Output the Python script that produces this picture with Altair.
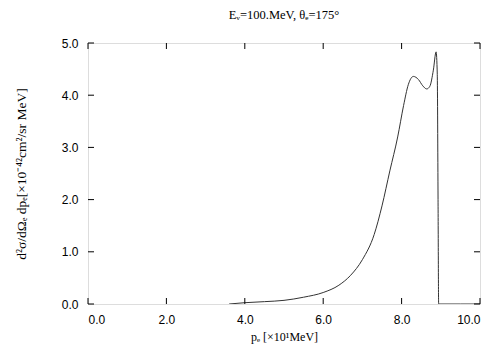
import altair as alt
import pandas as pd

# curve
p_e = [3.6, 4.0, 4.5, 5.0, 5.5, 6.0, 6.4, 6.7, 7.0, 7.3, 7.5, 7.7, 7.9, 8.05, 8.17,
       8.3, 8.43, 8.54, 8.64, 8.72, 8.81, 8.88, 8.91, 8.93, 8.945, 9.5, 10.0]
xsec = [0.0, 0.025, 0.045, 0.07, 0.13, 0.22, 0.36, 0.55, 0.85, 1.33, 1.88, 2.55, 3.2, 3.8, 4.2,
        4.36, 4.3, 4.18, 4.12, 4.17, 4.48, 4.83, 4.4, 2.0, 0.0, 0.0, 0.0]

x_ticks = [0.0, 2.0, 4.0, 6.0, 8.0, 10.0]
y_ticks = [0.0, 1.0, 2.0, 3.0, 4.0, 5.0]

W, H = 392, 261
TL = 6

df = pd.DataFrame({"p": p_e, "s": xsec})
xt = pd.DataFrame({"t": x_ticks})
yt = pd.DataFrame({"t": y_ticks})

xscale = alt.Scale(domain=[0, 10], nice=False, zero=False)
yscale = alt.Scale(domain=[0, 5], nice=False, zero=False)

line = alt.Chart(df).mark_line(color="#333333", strokeWidth=1, interpolate="monotone", clip=True).encode(
    x=alt.X("p:Q", scale=xscale, axis=alt.Axis(
        values=x_ticks, format=".1f", ticks=False, domain=False, grid=False,
        labelFont="Liberation Sans", labelFontSize=12, labelColor="black", labelPadding=10,
        title="pₑ [×10¹MeV]", titleFont="Liberation Serif", titleFontSize=12,
        titleFontWeight="normal", titleColor="black", titlePadding=6)),
    y=alt.Y("s:Q", scale=yscale, axis=alt.Axis(
        values=y_ticks, format=".1f", ticks=False, domain=False, grid=False,
        labelFont="Liberation Sans", labelFontSize=12, labelColor="black", labelPadding=10,
        title="d²σ/dΩₑ dpₑ[×10⁻⁴²cm²/sr MeV]", titleFont="Liberation Serif", titleFontSize=13.5,
        titleFontWeight="normal", titleColor="black", titleX=-60, titleY=H / 2)),
)

tick_style = dict(color="black", strokeWidth=1)
xb = alt.Chart(xt).mark_rule(**tick_style).encode(
    x=alt.X("t:Q", scale=xscale), y=alt.value(H), y2=alt.value(H - TL))
xtop = alt.Chart(xt).mark_rule(**tick_style).encode(
    x=alt.X("t:Q", scale=xscale), y=alt.value(0), y2=alt.value(TL))
yl = alt.Chart(yt).mark_rule(**tick_style).encode(
    y=alt.Y("t:Q", scale=yscale), x=alt.value(0), x2=alt.value(TL))
yr = alt.Chart(yt).mark_rule(**tick_style).encode(
    y=alt.Y("t:Q", scale=yscale), x=alt.value(W), x2=alt.value(W - TL))

chart = alt.layer(line, xb, xtop, yl, yr).properties(
    width=W, height=H,
    autosize=alt.AutoSizeParams(type="none"),
    padding={"left": 80, "top": 35, "right": 16, "bottom": 45},
    title=alt.TitleParams(
        "Eᵥ=100.MeV,  θₑ=175°", font="Liberation Serif", fontSize=12.5,
        fontWeight="normal", color="black", anchor="middle", offset=16),
).configure_view(stroke="black", strokeWidth=2).configure(background="white")

chart.save("out.html", embed_options={"renderer": "svg", "actions": False})
